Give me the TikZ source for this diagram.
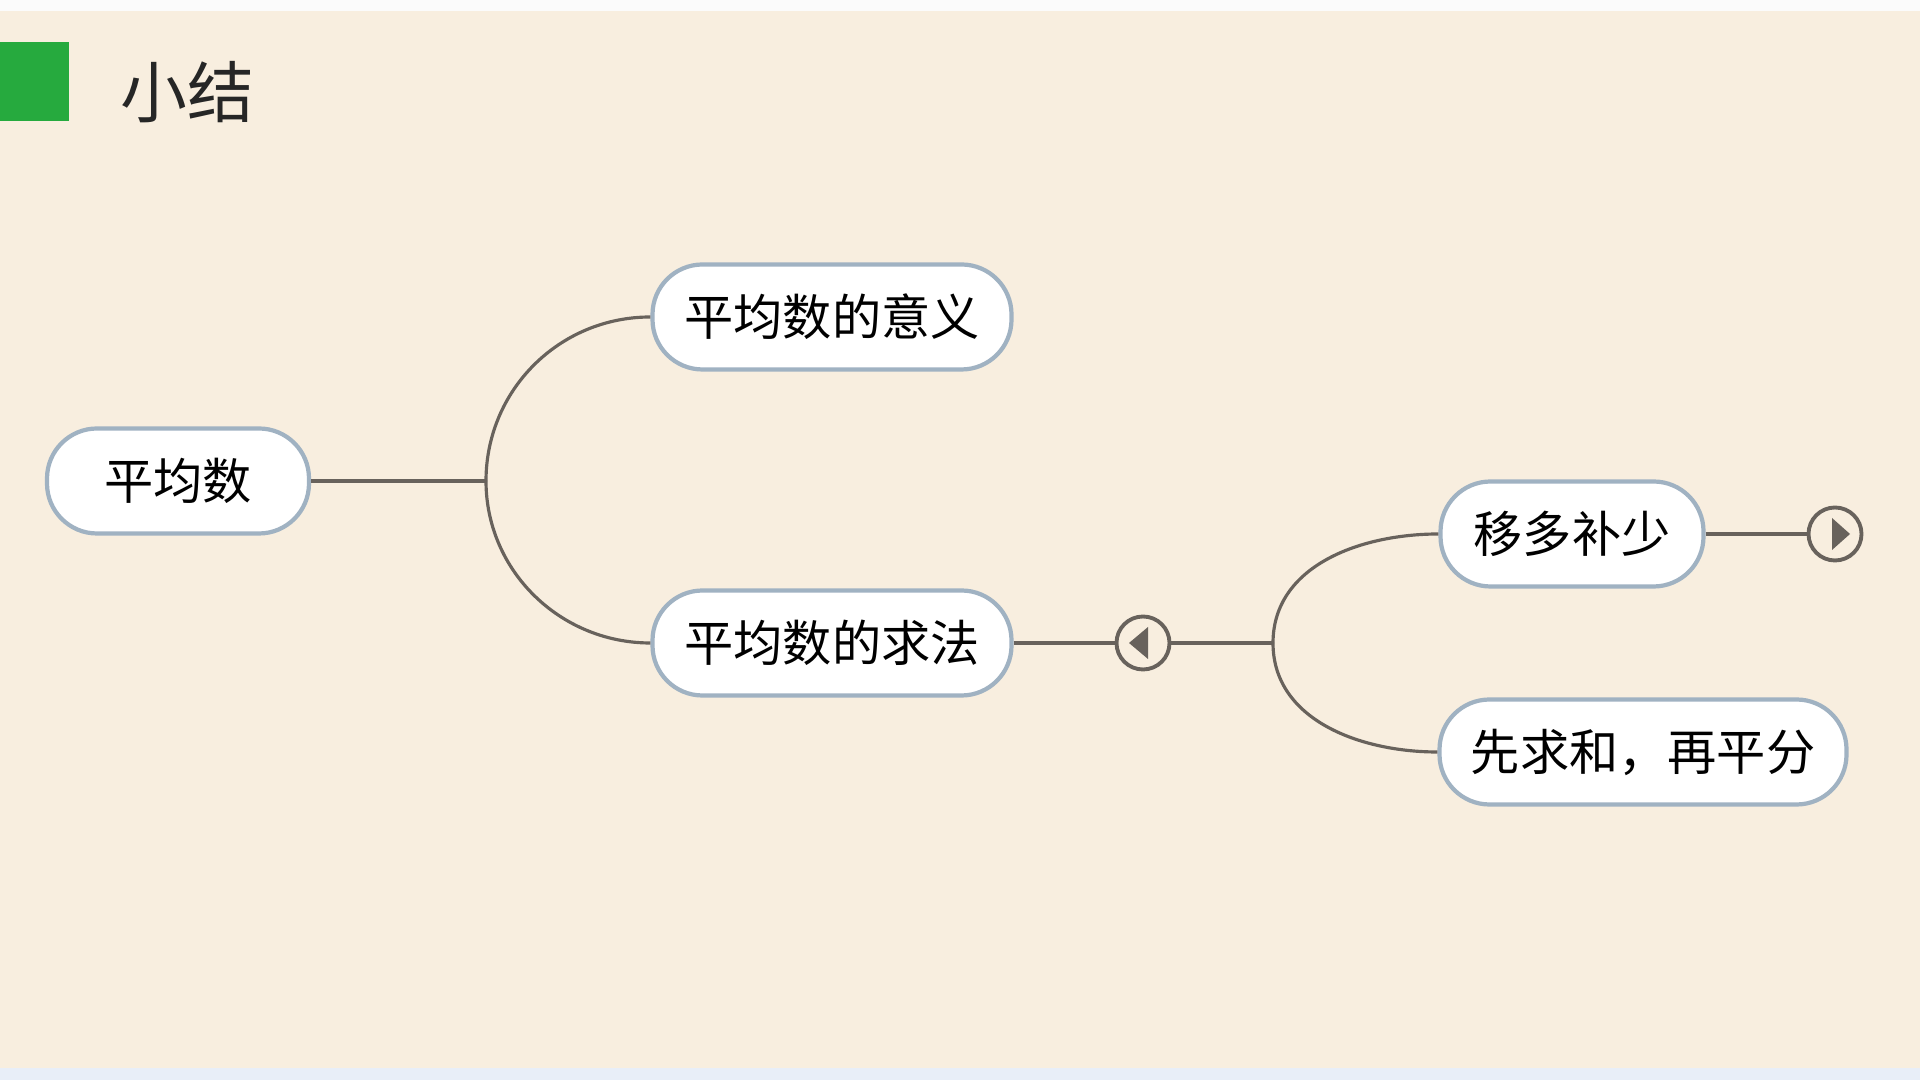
\documentclass[tikz,border=0pt]{standalone}
\usepackage{fontspec}
\usepackage{xcolor}
\usepackage{tikz}
\newfontfamily\cjk{Noto Sans CJK SC}
\definecolor{paper}{RGB}{248,238,223}
\definecolor{topband}{RGB}{251,251,251}
\definecolor{footband}{RGB}{232,238,248}
\definecolor{markgreen}{RGB}{38,170,62}
\definecolor{linegray}{RGB}{104,98,92}
\definecolor{rimblue}{RGB}{160,178,194}

\begin{document}
\begin{tikzpicture}[
		topic/.style={rectangle, rounded corners=5mm, draw=rimblue, line width=1.2pt, fill=white, minimum height=1.05cm, inner sep=0pt, font=\cjk\fontsize{14}{17}\selectfont},
		fold/.style={circle, draw=linegray, line width=1.1pt, minimum size=0.53cm, inner sep=0pt},
		branch/.style={draw=linegray, line width=0.9pt},
		heading/.style={font=\cjk\fontsize{19}{23}\selectfont, text=black!85}
		]
		\useasboundingbox (0,0) rectangle (19.2,10.8);
		\fill[paper] (0,0) rectangle (19.2,10.8);
		\fill[topband] (0,10.69) rectangle (19.2,10.8);
		\fill[footband] (0,0) rectangle (19.2,0.12);
		\fill[markgreen] (0,9.59) rectangle (0.69,10.38);
		\node[heading] (title) at (1.87,9.88) {小结};

		\node[topic, minimum width=2.62cm] (avg) at (1.78,5.99) {平均数};
		\node[topic, minimum width=3.59cm] (meaning) at (8.32,7.63) {平均数的意义};
		\node[topic, minimum width=3.59cm] (method) at (8.32,4.37) {平均数的求法};
		\node[topic, minimum width=2.63cm] (shift) at (15.72,5.46) {移多补少};
		\node[topic, minimum width=4.07cm] (share) at (16.43,3.28) {先求和，再平分};
		\node[fold] (foldA) at (11.43,4.37) {};
		\node[fold] (foldB) at (18.35,5.46) {};
		\coordinate (forkA) at (4.86,5.99);
		\coordinate (forkB) at (12.73,4.37);

		\draw[branch] (avg.east) -- (forkA);
		\draw[branch] (forkA) to[out=90, in=180] (meaning.west);
		\draw[branch] (forkA) to[out=-90, in=180] (method.west);
		\draw[branch] (method.east) -- (foldA.west);
		\draw[branch] (foldA.east) -- (forkB);
		\draw[branch] (forkB) to[out=90, in=180] (shift.west);
		\draw[branch] (forkB) to[out=-90, in=180] (share.west);
		\draw[branch] (shift.east) -- (foldB.west);

		\fill[linegray] ([xshift=-0.14cm]foldA.center) -- ([xshift=0.05cm, yshift=0.16cm]foldA.center) -- ([xshift=0.05cm, yshift=-0.16cm]foldA.center) -- cycle;
		\fill[linegray] ([xshift=0.15cm]foldB.center) -- ([xshift=-0.03cm, yshift=0.16cm]foldB.center) -- ([xshift=-0.03cm, yshift=-0.16cm]foldB.center) -- cycle;
	\end{tikzpicture}
\end{document}
